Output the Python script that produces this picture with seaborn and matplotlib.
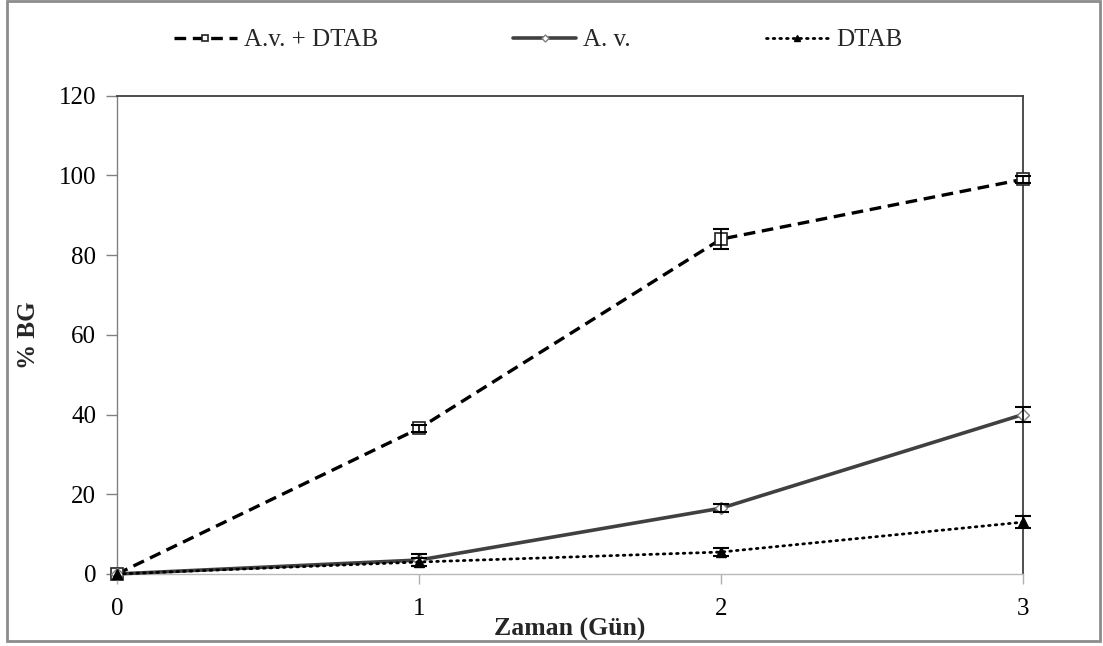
import matplotlib
matplotlib.use("Agg")
import matplotlib.pyplot as plt
from matplotlib.patches import Rectangle
import seaborn as sns
import pandas as pd

# Time points (days) and % BG for each treatment, with their error margins
days = [0, 1, 2, 3]
av_dtab = [0, 36.5, 84, 99]
av_dtab_err = [0.5, 0.8, 2.5, 0.8]
av = [0, 3.5, 16.5, 40]
av_err = [0.5, 1.5, 1.0, 2.0]
dtab = [0, 3.0, 5.5, 13]
dtab_err = [0.5, 1.0, 1.0, 1.5]

series_names = ["A.v. + DTAB", "A. v.", "DTAB"]
y_ticks = [0, 20, 40, 60, 80, 100, 120]
x_ticks = [0, 1, 2, 3]

sns.set_theme(style="white")
plt.rcParams["font.family"] = ["Liberation Serif", "DejaVu Serif"]

fig = plt.figure(figsize=(11.03, 6.46), dpi=100)
ax = fig.add_axes([0.106, 0.1115, 0.8215, 0.7405])

frames = {
    series_names[0]: (av_dtab, av_dtab_err),
    series_names[1]: (av, av_err),
    series_names[2]: (dtab, dtab_err),
}
styles = {
    series_names[0]: dict(color="black", linewidth=2.4, dashes=(3.5, 2.0),
                          marker="s", markersize=8, markerfacecolor="white",
                          markeredgecolor="#222222", markeredgewidth=1.2),
    series_names[1]: dict(color="#404040", linewidth=2.6, linestyle="-",
                          marker="D", markersize=6, markerfacecolor="white",
                          markeredgecolor="#808080", markeredgewidth=1.0),
    series_names[2]: dict(color="black", linewidth=2.0, dashes=(0.6, 1.8),
                          dash_capstyle="round",
                          marker="^", markersize=7, markerfacecolor="black",
                          markeredgecolor="black", markeredgewidth=1.0),
}

for name, (vals, errs) in frames.items():
    df = pd.DataFrame({"Gün": days, "BG": vals})
    sns.lineplot(data=df, x="Gün", y="BG", ax=ax, label=name, zorder=3,
                 clip_on=False, **styles[name])
    eb = ax.errorbar(days[1:], vals[1:], yerr=errs[1:], fmt="none", ecolor="black",
                     elinewidth=1.2, capsize=6, capthick=1.5, zorder=4)
    for art in eb.lines[1] + eb.lines[2]:
        art.set_clip_on(False)

ax.set_xlim(0, 3)
ax.set_ylim(0, 120)
ax.set_xticks(x_ticks)
ax.set_yticks(y_ticks)
ax.tick_params(axis="both", labelsize=18, colors="black")
ax.tick_params(axis="y", direction="out", length=8, width=1, color="#808080", pad=7, left=True)
ax.tick_params(axis="x", direction="out", length=7, width=1, color="#b0b0b0", pad=10, bottom=True)

for side in ["top", "right"]:
    ax.spines[side].set_color("#404040")
    ax.spines[side].set_linewidth(1.3)
ax.spines["left"].set_color("#808080")
ax.spines["left"].set_linewidth(1.0)
ax.spines["bottom"].set_color("#b8b8b8")
ax.spines["bottom"].set_linewidth(1.0)

ax.set_xlabel("Zaman (Gün)", fontsize=18.5, fontweight="bold", va="center")
ax.xaxis.set_label_coords(0.5, -0.115)
ax.set_ylabel("% BG", fontsize=18, fontweight="bold", va="center")
ax.yaxis.set_label_coords(-0.098, 0.5)
ax.grid(False)

handles, labels = ax.get_legend_handles_labels()
ax.get_legend().remove()
fig.legend(handles, labels, loc="center", bbox_to_anchor=(0.488, 0.938), ncol=3,
           frameon=False, fontsize=18, handlelength=2.5, handletextpad=0.3,
           columnspacing=5.4, markerscale=0.6)

# Chart frame
fig.patches.append(Rectangle((0.0065, 0.008), 0.991, 0.99, transform=fig.transFigure,
                             fill=False, edgecolor="#8c8c8c", linewidth=2.0))

fig.savefig("out.png", dpi=100)
